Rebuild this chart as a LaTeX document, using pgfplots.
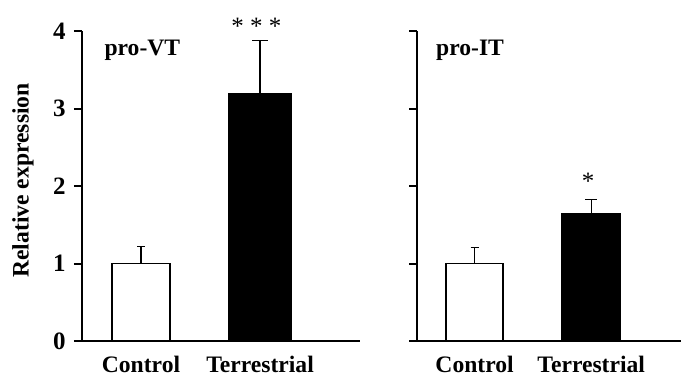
\documentclass[border=0pt]{standalone}
\usepackage{fontspec}
\setmainfont{Liberation Serif}
\usepackage{pgfplots}
\pgfplotsset{compat=1.18}
\begin{document}
\begin{tikzpicture}
\fontsize{11.8}{14}\selectfont
\useasboundingbox (0,0) rectangle (340.5pt,188.5pt);
\pgfplotsset{
  panel/.style={
    scale only axis, height=155pt,
    ymin=0, ymax=4, ytick={0,1,2,3,4},
    axis x line=bottom, axis y line=left,
    axis line style={-, line width=1pt},
    tick align=outside,
    major tick length=4pt,
    ytick style={line width=1pt, black},
    xtick={0,1}, xticklabels={Control,Terrestrial},
    major x tick style={draw=none},
    xticklabel style={font=\bfseries\fontsize{11.8}{14}\selectfont, inner sep=0pt, yshift=-3.6pt},
    yticklabel style={font=\bfseries\fontsize{12.5}{14}\selectfont},
    /pgf/number format/assume math mode=true,
    clip=false,
    ybar, bar shift=0pt,
  },
}
% Left panel
\begin{axis}[panel, at={(41pt,18pt)}, anchor=south west, width=139pt,
  xmin=-0.496, xmax=1.84,
  ylabel={\bfseries Relative expression},
  ylabel style={font=\bfseries\fontsize{11.8}{14}\selectfont, at={(axis description cs:-0.212,0.518)}, anchor=center},
  yticklabel style={xshift=0pt}]
\addplot[fill=white, draw=black, line width=0.9pt, bar width=29pt,
  error bars/.cd, y dir=plus, y explicit,
  error bar style={line width=0.6pt, black},
  error mark options={rotate=90, mark size=2pt, line width=0.6pt, black}]
  coordinates {(0,1.0) +- (0,0.22)};
\addplot[fill=black, draw=black, line width=0.9pt, bar width=31pt,
  error bars/.cd, y dir=plus, y explicit,
  error bar style={line width=0.6pt, black},
  error mark options={rotate=90, mark size=4pt, line width=0.6pt, black}]
  coordinates {(1,3.19) +- (0,0.69)};
\node[anchor=base west, inner sep=0pt, font=\bfseries\fontsize{11.8}{14}\selectfont] at (axis cs:-0.31,3.69) {pro-VT};
\node[font=\fontsize{12.5}{14}\selectfont, yshift=-2.3pt] at (axis cs:0.97,4.12) {* * *};
\end{axis}
% Right panel
\begin{axis}[panel, at={(208.5pt,18pt)}, anchor=south west, width=132pt,
  xmin=-0.494, xmax=1.77,
  yticklabels={}]
\addplot[fill=white, draw=black, line width=0.9pt, bar width=28.5pt,
  error bars/.cd, y dir=plus, y explicit,
  error bar style={line width=0.6pt, black},
  error mark options={rotate=90, mark size=2pt, line width=0.6pt, black}]
  coordinates {(0,1.0) +- (0,0.21)};
\addplot[fill=black, draw=black, line width=0.9pt, bar width=29pt,
  error bars/.cd, y dir=plus, y explicit,
  error bar style={line width=0.6pt, black},
  error mark options={rotate=90, mark size=3pt, line width=0.6pt, black}]
  coordinates {(1,1.64) +- (0,0.19)};
\node[anchor=base west, inner sep=0pt, font=\bfseries\fontsize{11.8}{14}\selectfont] at (axis cs:-0.333,3.69) {pro-IT};
\node[font=\fontsize{12.5}{14}\selectfont, yshift=-2.3pt] at (axis cs:0.974,2.12) {*};
\end{axis}
\end{tikzpicture}
\end{document}
